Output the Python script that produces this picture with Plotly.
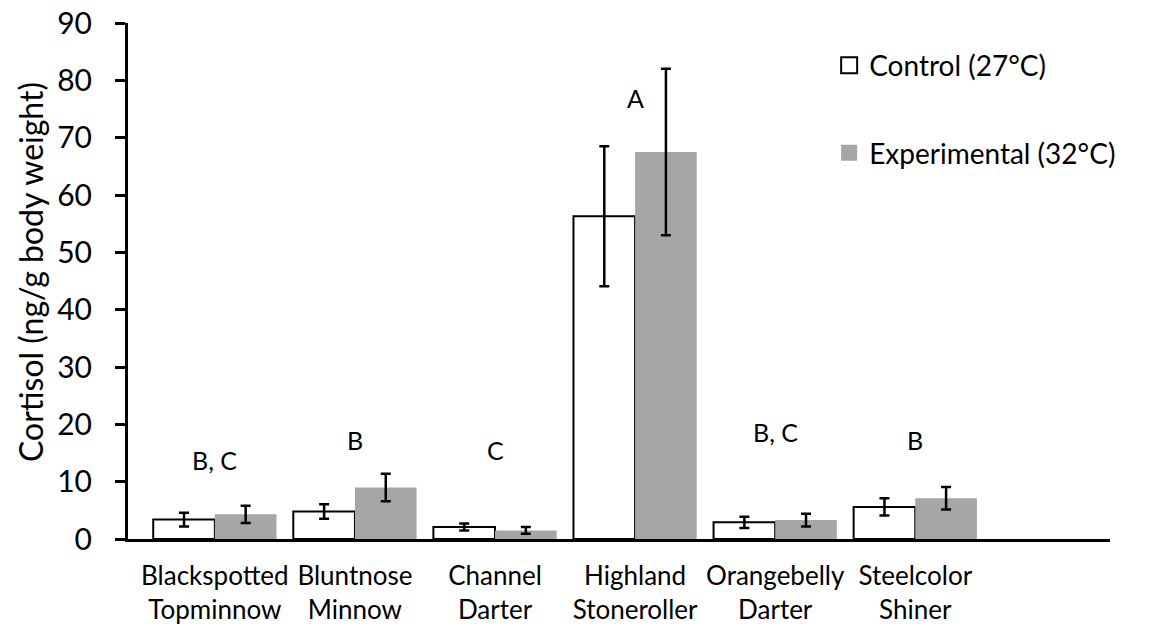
import plotly.graph_objects as go

# Species groups (two-line tick labels)
species = [
    "Blackspotted<br>Topminnow",
    "Bluntnose<br>Minnow",
    "Channel<br>Darter",
    "Highland<br>Stoneroller",
    "Orangebelly<br>Darter",
    "Steelcolor<br>Shiner",
]

# Mean cortisol (ng/g body weight) and standard error
control_mean = [3.4, 4.8, 2.1, 56.3, 2.9, 5.6]
control_err = [1.2, 1.25, 0.6, 12.2, 1.0, 1.5]
experimental_mean = [4.3, 9.0, 1.5, 67.5, 3.3, 7.1]
experimental_err = [1.5, 2.4, 0.6, 14.5, 1.1, 1.95]

# Significance letters and their heights
group_letters = ["B, C", "B", "C", "A", "B, C", "B"]
letter_y = [13.8, 17.3, 15.5, 77.0, 18.7, 17.3]

FONT = "Lato"
GREY = "#a6a6a6"
x_idx = list(range(len(species)))

fig = go.Figure()
fig.add_trace(go.Bar(
    x=x_idx, y=control_mean, name="Control (27°C)",
    marker=dict(color="white", line=dict(color="black", width=2)),
    error_y=dict(type="data", array=control_err, color="black", thickness=2.5, width=5),
    showlegend=False,
))
fig.add_trace(go.Bar(
    x=x_idx, y=experimental_mean, name="Experimental (32°C)",
    marker=dict(color=GREY, line=dict(width=0)),
    error_y=dict(type="data", array=experimental_err, color="black", thickness=2.5, width=5),
    showlegend=False,
))

# Legend keys as larger square markers
fig.add_trace(go.Scatter(
    x=[None], y=[None], mode="markers", name="Control (27°C)",
    marker=dict(symbol="square", size=16, color="white", line=dict(color="black", width=2)),
    legendgroup="c",
))
fig.add_trace(go.Scatter(
    x=[None], y=[None], mode="markers", name="Experimental (32°C)",
    marker=dict(symbol="square", size=16, color=GREY, line=dict(width=0)),
    legendgroup="e",
))

for i, (lab, ly) in enumerate(zip(group_letters, letter_y)):
    fig.add_annotation(x=i, y=ly, text=lab, showarrow=False,
                       font=dict(family=FONT, size=25, color="black"))

# Y-axis title
fig.add_annotation(
    xref="paper", yref="paper", x=-0.1, y=0.517,
    xanchor="center", yanchor="middle", textangle=-90, showarrow=False,
    text="Cortisol (ng/g body weight)",
    font=dict(family=FONT, size=32, color="black"),
)

fig.update_layout(
    width=1149, height=628,
    margin=dict(l=128, r=39, t=23, b=89, autoexpand=False),
    paper_bgcolor="white", plot_bgcolor="white",
    barmode="group", bargap=0.12, bargroupgap=0,
    font=dict(family=FONT, color="black"),
    showlegend=True,
    legend=dict(x=0.714, y=0.966, xanchor="left", yanchor="top",
                font=dict(family=FONT, size=28, color="black"),
                tracegroupgap=48, bgcolor="rgba(0,0,0,0)",
                itemsizing="trace"),
)
fig.update_xaxes(
    tickmode="array", tickvals=x_idx, ticktext=species,
    range=[-0.62, 6.39], automargin=False,
    showline=True, linecolor="black", linewidth=3,
    ticks="", showgrid=False, zeroline=False,
    tickfont=dict(family=FONT, size=26, color="black"),
    ticklabelstandoff=12,
)
fig.update_yaxes(
    range=[0, 90], tickvals=list(range(0, 91, 10)), automargin=False,
    showline=True, linecolor="black", linewidth=3,
    ticks="outside", ticklen=10, tickwidth=3, tickcolor="black",
    showgrid=False, zeroline=False,
    tickfont=dict(family=FONT, size=30, color="black"),
    ticklabelstandoff=17,
)

fig.write_html("out.html")
